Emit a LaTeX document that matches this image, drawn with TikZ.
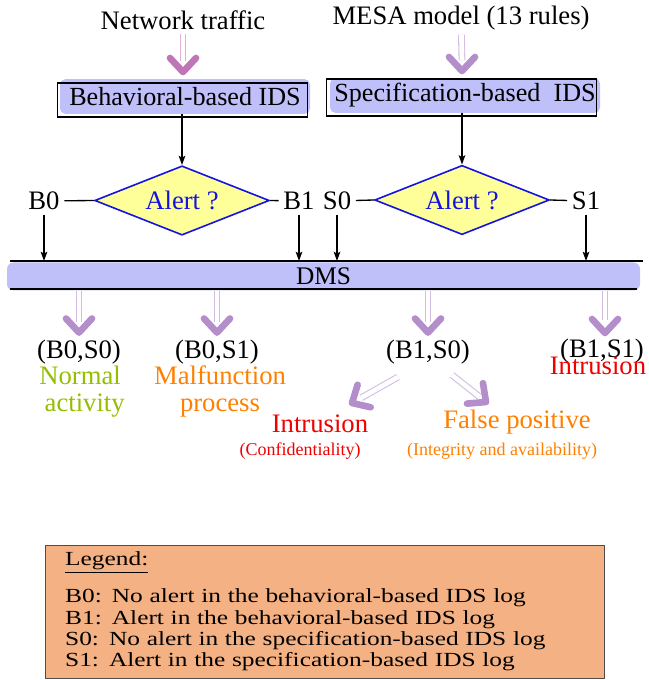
\documentclass[tikz,border=0pt]{standalone}
\usepackage{fontspec}
\setmainfont{Liberation Serif}
\newfontfamily\legfont[FakeStretch=1.27]{Liberation Serif}
\usetikzlibrary{shapes.geometric, arrows.meta, calc}

\definecolor{boxblue}{RGB}{191,191,250}
\definecolor{diayellow}{RGB}{255,255,153}
\definecolor{diablue}{RGB}{20,20,225}
\definecolor{shaftpurple}{RGB}{210,188,228}
\definecolor{headpurple}{RGB}{180,142,202}
\definecolor{shaftpink}{RGB}{228,175,218}
\definecolor{headpink}{RGB}{192,118,182}
\definecolor{okgreen}{RGB}{150,190,0}
\definecolor{warnorange}{RGB}{255,128,0}
\definecolor{alarmred}{RGB}{240,0,0}
\definecolor{legendfill}{RGB}{244,177,131}

\begin{document}
\begin{tikzpicture}[x=0.75pt, y=-0.75pt,
  every node/.style={font=\fontsize{20}{21}\selectfont},
  >={Stealth[length=7pt, width=5pt, inset=1.5pt]},
  idsbox/.style={fill=boxblue, rounded corners=4pt, minimum height=26pt, inner sep=0pt, font=\fontsize{19.6}{20}\selectfont},
  alertdia/.style={diamond, draw=diablue, line width=1.2pt, fill=diayellow, text=diablue, aspect=2.5, inner sep=0pt, minimum width=131pt, minimum height=52pt},
  dmsbar/.style={fill=boxblue, rounded corners=5pt, minimum width=474.75pt, minimum height=21pt, inner sep=0pt, font=\fontsize{19}{20}\selectfont},
  shaft/.style={draw=#1, line width=0.8pt, double=white, double distance=3.5pt},
  pics/chev/.style={code={\draw[draw=#1, line width=5pt, line cap=round, line join=round] (-13,-14) -- (0,0) -- (13,-14);}},
  small/.style={font=\fontsize{13.5}{14}\selectfont},
  twoline/.style={font=\fontsize{20}{20.3}\selectfont, inner sep=1pt},
  legendbox/.style={draw=black!70, fill=legendfill, align=left, text width=389pt, inner xsep=15pt, minimum height=100pt, font=\legfont\fontsize{15}{16}\selectfont}
]
\useasboundingbox (0,0) rectangle (648,680);

% inputs
\node (traffic) at (183,20) {Network traffic};
\node (mesa) at (461,18) {MESA model (13 rules)};

% the two IDS
\node[idsbox, minimum width=187.5pt] (bids) at (185,96.5) {Behavioral-based IDS};
\draw[line width=1pt] ([shift={(-2,4)}]bids.north west) rectangle ([shift={(-3,3)}]bids.south east);
\node[idsbox, minimum width=202.5pt] (sids) at (465,95.5) {Specification-based\ \ IDS};
\draw[line width=1pt] ([shift={(-3,1)}]sids.north west) rectangle ([shift={(-4,3)}]sids.south east);

\coordinate (ta) at (183,72);
\coordinate (ma) at (462,71);
\draw[shaft=shaftpink] (traffic) -- ([yshift=8pt]ta);
\pic at (ta) {chev=headpink};
\draw[shaft=shaftpurple] (mesa) -- ([yshift=8pt]ma);
\pic at (ma) {chev=headpurple};

% decisions
\node[alertdia] (alertb) at (182,200.5) {Alert ?};
\node[alertdia] (alerts) at (462,200) {Alert ?};
\draw[->, line width=1pt] (alertb.north |- bids.south) -- (alertb.north);
\draw[->, line width=1pt] (alerts.north |- sids.south) -- (alerts.north);

\node (b0) at (44,201) {B0};
\node (b1) at (299,201) {B1};
\node (s0) at (337,201) {S0};
\node (s1) at (586,201) {S1};
\draw[line width=1pt] (b0) -- (alertb.west);
\draw[line width=1pt] (alertb.east) -- (b1);
\draw[line width=1pt] (s0) -- (alerts.west);
\draw[line width=1pt] (alerts.east) -- (s1);

% DMS
\node[dmsbar] (dms) at (323.5,276.5) {DMS};
\coordinate (dmstl) at (10,261);
\coordinate (dmstr) at (643,261);
\coordinate (dmsbl) at (10,289);
\coordinate (dmsbr) at (637,289);
\draw[line width=1.2pt] (dmstl) -- (dmstr);
\draw[line width=1.2pt] (dmsbl) -- (dmsbr);
\foreach \n in {b0,b1,s0,s1}
  \draw[->, line width=1pt] (\n) -- (\n |- dmstl);

% outcomes
\node (bs00) at (79,352) {(B0,S0)};
\node (bs01) at (217,352) {(B0,S1)};
\node (bs10) at (428,352) {(B1,S0)};
\node (bs11) at (602,351) {(B1,S1)};
\foreach \n in {bs00,bs01,bs10} {
  \draw[shaft=shaftpurple] (dms.south -| \n.north) -- ([yshift=10pt]\n.north);
  \pic at ([yshift=2pt]\n.north) {chev=headpurple};
}
\coordinate (bs11top) at (605,333);
\draw[shaft=shaftpurple] (dms.south -| bs11top) -- ([yshift=10pt]bs11top);
\pic at (bs11top) {chev=headpurple};

\node[text=okgreen, twoline, align=left] (normal) at (82,392) {Normal\\\hspace{4pt}activity};
\node[text=warnorange, twoline, align=center] (malf) at (220,391.5) {Malfunction\\process};
\node[text=alarmred] (intr2) at (598,366) {Intrusion};

\coordinate (lt) at (398,377);
\coordinate (lh) at (352,403);
\coordinate (rt) at (452,375);
\coordinate (rh) at (486,402);
\draw[shaft=shaftpurple] (lt) -- ($(lt)!0.8!(lh)$);
\pic[rotate=-60] at (lh) {chev=headpurple};
\draw[shaft=shaftpurple] (rt) -- ($(rt)!0.8!(rh)$);
\pic[rotate=52] at (rh) {chev=headpurple};

\node[text=alarmred] (intr) at (320,424) {Intrusion};
\node[text=alarmred, small] (conf) at (300,451) {(Confidentiality)};
\node[text=warnorange] (fpos) at (517,422) {False positive};
\node[text=warnorange, small] (integ) at (502,451) {(Integrity and availability)};

% legend
\node[legendbox] (legend) at (324.5,611.5) {\underline{Legend:}\\[12pt]
B0: No alert in the behavioral-based IDS log\\
B1: Alert in the behavioral-based IDS log\\
S0: No alert in the specification-based IDS log\\
S1: Alert in the specification-based IDS log};
\end{tikzpicture}
\end{document}
